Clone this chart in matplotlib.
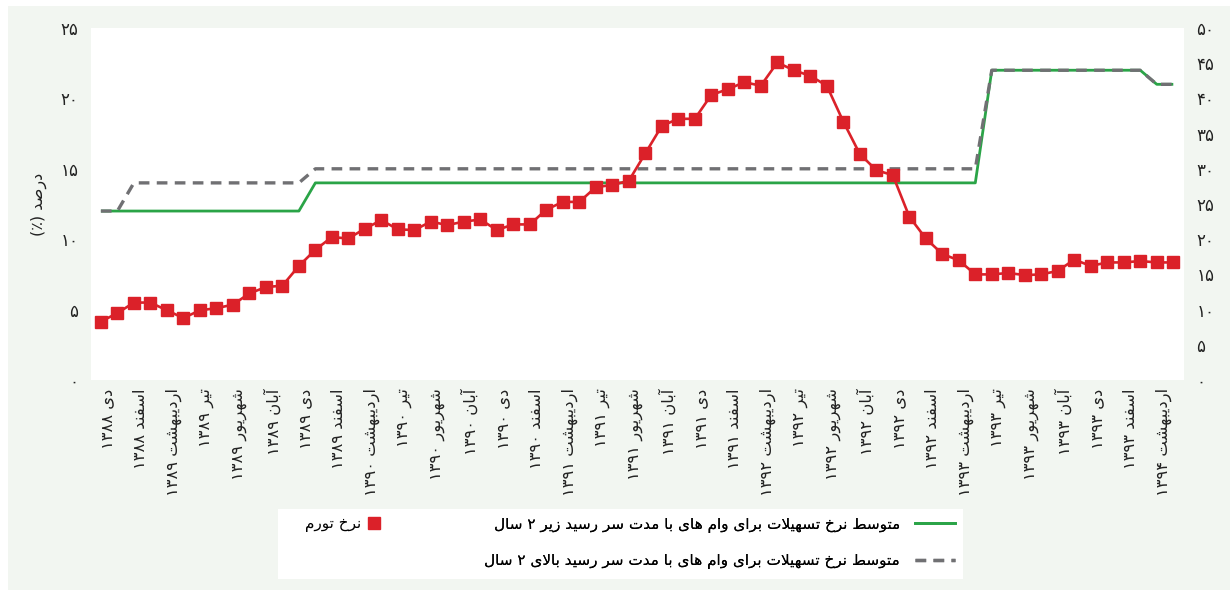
import re
import numpy as np
import matplotlib
matplotlib.use('Agg')
import matplotlib.pyplot as plt
from matplotlib.patches import Rectangle
from matplotlib.lines import Line2D

plt.rcParams['font.family'] = ['DejaVu Sans']

# --- data -----------------------------------------------------------------
tick_labels = [
    'دی ۱۳۸۸', 'اسفند ۱۳۸۸', 'اردیبهشت ۱۳۸۹', 'تیر ۱۳۸۹', 'شهریور ۱۳۸۹', 'آبان ۱۳۸۹',
    'دی ۱۳۸۹', 'اسفند ۱۳۸۹', 'اردیبهشت ۱۳۹۰', 'تیر ۱۳۹۰', 'شهریور ۱۳۹۰', 'آبان ۱۳۹۰',
    'دی ۱۳۹۰', 'اسفند ۱۳۹۰', 'اردیبهشت ۱۳۹۱', 'تیر ۱۳۹۱', 'شهریور ۱۳۹۱', 'آبان ۱۳۹۱',
    'دی ۱۳۹۱', 'اسفند ۱۳۹۱', 'اردیبهشت ۱۳۹۲', 'تیر ۱۳۹۲', 'شهریور ۱۳۹۲', 'آبان ۱۳۹۲',
    'دی ۱۳۹۲', 'اسفند ۱۳۹۲', 'اردیبهشت ۱۳۹۳', 'تیر ۱۳۹۳', 'شهریور ۱۳۹۳', 'آبان ۱۳۹۳',
    'دی ۱۳۹۳', 'اسفند ۱۳۹۳', 'اردیبهشت ۱۳۹۴',
]

# نرخ تورم (محور راست)
inflation = [
    8.3, 9.5, 11.0, 11.0, 9.9, 8.8, 9.9, 10.2, 10.7, 12.3,
    13.2, 13.4, 16.2, 18.5, 20.3, 20.1, 21.5, 22.7, 21.4, 21.3,
    22.5, 22.0, 22.5, 22.8, 21.3, 22.1, 22.1, 24.2, 25.3, 25.3,
    27.4, 27.7, 28.3, 32.2, 36.1, 37.1, 37.1, 40.5, 41.3, 42.3,
    41.8, 45.1, 44.0, 43.2, 41.8, 36.7, 32.1, 29.8, 29.1, 23.2,
    20.1, 17.9, 17.0, 15.0, 15.0, 15.2, 14.9, 15.0, 15.5, 17.1,
    16.2, 16.7, 16.7, 16.9, 16.7, 16.7,
]

# نرخ تسهیلات زیر ۲ سال (محور چپ)
rate_short = [
    12, 12, 12, 12, 12, 12, 12, 12, 12, 12, 12, 12, 12,
    14, 14, 14, 14, 14, 14, 14, 14, 14, 14, 14, 14, 14, 14,
    14, 14, 14, 14, 14, 14, 14, 14, 14, 14, 14, 14, 14, 14,
    14, 14, 14, 14, 14, 14, 14, 14, 14, 14, 14, 14, 14,
    22, 22, 22, 22, 22, 22, 22, 22, 22, 22,
    21, 21,
]

# نرخ تسهیلات بالای ۲ سال (محور چپ)
rate_long = [
    12, 12, 14, 14, 14, 14, 14, 14, 14, 14, 14, 14, 14,
    15, 15, 15, 15, 15, 15, 15, 15, 15, 15, 15, 15, 15, 15,
    15, 15, 15, 15, 15, 15, 15, 15, 15, 15, 15, 15, 15, 15,
    15, 15, 15, 15, 15, 15, 15, 15, 15, 15, 15, 15, 15,
    22, 22, 22, 22, 22, 22, 22, 22, 22, 22,
    21, 21,
]

left_ticks = [0, 5, 10, 15, 20, 25]
right_ticks = [0, 5, 10, 15, 20, 25, 30, 35, 40, 45, 50]

RED = '#db2129'
GREEN = '#2aa447'
GRAY = '#707073'
BG = '#f2f6f1'

# --- simple persian shaping (matplotlib does not shape arabic script) ----
FORMS = {
    'ا': ('\uFE8D', '\uFE8E', None, None),
    'آ': ('\uFE81', '\uFE82', None, None),
    'ب': ('\uFE8F', '\uFE90', '\uFE91', '\uFE92'),
    'پ': ('\uFB56', '\uFB57', '\uFB58', '\uFB59'),
    'ت': ('\uFE95', '\uFE96', '\uFE97', '\uFE98'),
    'ح': ('\uFEA1', '\uFEA2', '\uFEA3', '\uFEA4'),
    'خ': ('\uFEA5', '\uFEA6', '\uFEA7', '\uFEA8'),
    'د': ('\uFEA9', '\uFEAA', None, None),
    'ر': ('\uFEAD', '\uFEAE', None, None),
    'ز': ('\uFEAF', '\uFEB0', None, None),
    'س': ('\uFEB1', '\uFEB2', '\uFEB3', '\uFEB4'),
    'ش': ('\uFEB5', '\uFEB6', '\uFEB7', '\uFEB8'),
    'ص': ('\uFEB9', '\uFEBA', '\uFEBB', '\uFEBC'),
    'ط': ('\uFEC1', '\uFEC2', '\uFEC3', '\uFEC4'),
    'ف': ('\uFED1', '\uFED2', '\uFED3', '\uFED4'),
    'ل': ('\uFEDD', '\uFEDE', '\uFEDF', '\uFEE0'),
    'م': ('\uFEE1', '\uFEE2', '\uFEE3', '\uFEE4'),
    'ن': ('\uFEE5', '\uFEE6', '\uFEE7', '\uFEE8'),
    'ه': ('\uFEE9', '\uFEEA', '\uFEEB', '\uFEEC'),
    'و': ('\uFEED', '\uFEEE', None, None),
    'ی': ('\uFBFC', '\uFBFD', '\uFBFE', '\uFBFF'),
}


def fa(text):
    chars = list(text)
    n = len(chars)
    out = []
    i = 0
    while i < n:
        c = chars[i]
        if c not in FORMS:
            out.append(c)
            i += 1
            continue
        prev = chars[i - 1] if i > 0 else ''
        jp = prev in FORMS and FORMS[prev][2] is not None
        if c == 'ل' and i + 1 < n and chars[i + 1] == 'ا':
            out.append('\uFEFC' if jp else '\uFEFB')
            i += 2
            continue
        nxt = chars[i + 1] if i + 1 < n else ''
        jn = FORMS[c][2] is not None and nxt in FORMS
        iso, fin, ini, med = FORMS[c]
        if jp and jn:
            out.append(med)
        elif jp:
            out.append(fin)
        elif jn:
            out.append(ini)
        else:
            out.append(iso)
        i += 1
    s = ''.join(out)[::-1]
    s = re.sub(r'[0-9\u06F0-\u06F9]+', lambda m: m.group(0)[::-1], s)
    return s.translate(str.maketrans('()', ')('))


def fa_num(v):
    return str(v).translate(str.maketrans('0123456789', '۰۱۲۳۴۵۶۷۸۹'))


# --- figure ---------------------------------------------------------------
W, H = 1230, 590
fig = plt.figure(figsize=(W / 100, H / 100), dpi=100, facecolor='white')
fig.patches.append(Rectangle((8 / W, 0), 1 - 8 / W, (H - 6) / H,
                             transform=fig.transFigure, facecolor=BG,
                             edgecolor='none', zorder=-10))

ax = fig.add_axes([91 / W, 1 - 380 / H, (1184 - 91) / W, (380 - 28) / H])
ax.set_facecolor('white')
ax2 = ax.twinx()

x = np.arange(len(inflation))

ax.plot(x, rate_short, color=GREEN, lw=2.0, solid_capstyle='butt', zorder=2)
ax.plot(x, rate_long, color=GRAY, lw=2.4, ls=(0, (3.2, 2.2)), zorder=3)
ax2.plot(x, inflation, color=RED, lw=1.9, marker='s', ms=8, zorder=4)

ax.set_xlim(-0.6, len(x) - 1 + 0.65)
ax.set_ylim(0, 25)
ax2.set_ylim(0, 50)

ax.set_yticks(left_ticks)
ax.set_yticklabels([fa_num(v) for v in left_ticks])
ax2.set_yticks(right_ticks)
ax2.set_yticklabels([fa_num(v) for v in right_ticks])

ax.set_xticks(np.arange(len(tick_labels)) * 2 + 0.4)
ax.set_xticklabels([fa(t) for t in tick_labels], rotation=90, va='top', ha='center')

ax.tick_params(axis='y', length=0, pad=9, labelsize=12, colors='#222222')
ax2.tick_params(axis='y', length=0, pad=9, labelsize=12, colors='#222222')
ax.tick_params(axis='x', length=0, pad=6, labelsize=11.8, colors='#222222')

for a in (ax, ax2):
    for sp in a.spines.values():
        sp.set_visible(False)

ax.set_ylabel(fa('درصد (٪)'), fontsize=11.5, color='#222222', labelpad=10)

# --- legend box -----------------------------------------------------------
fig.patches.append(Rectangle((278 / W, 1 - 579 / H), (963 - 278) / W, 70 / H,
                             transform=fig.transFigure, facecolor='white',
                             edgecolor='none', zorder=-5))

h_red = Line2D([], [], color=RED, marker='s', ms=8, lw=0)
h_green = Line2D([], [], color=GREEN, lw=2.0)
h_gray = Line2D([], [], color=GRAY, lw=2.4, ls=(0, (3.2, 2.2)))

leg1 = fig.legend([h_green, h_gray],
                  [fa('متوسط نرخ تسهیلات برای وام های با مدت سر رسید زیر ۲ سال'),
                   fa('متوسط نرخ تسهیلات برای وام های با مدت سر رسید بالای ۲ سال')],
                  loc='center right', bbox_to_anchor=(955 / W, 1 - 543 / H),
                  frameon=False, markerfirst=False, handlelength=2.6,
                  handletextpad=1.0, labelspacing=1.35, fontsize=11,
                  borderaxespad=0, borderpad=0)
leg2 = fig.legend([h_red], [fa('نرخ تورم')],
                  loc='center right', bbox_to_anchor=(380 / W, 1 - 524 / H),
                  frameon=False, markerfirst=False, handlelength=0.8,
                  handletextpad=0.4, fontsize=11, borderaxespad=0, borderpad=0)
fig.add_artist(leg1)

fig.savefig('out.png', dpi=100, facecolor=fig.get_facecolor())
